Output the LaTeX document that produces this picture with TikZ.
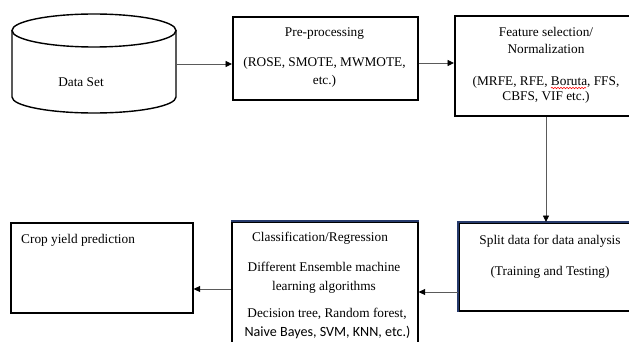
\documentclass[tikz,border=0pt]{standalone}
\usepackage{fontspec}
\setmainfont{Liberation Serif}
\newfontfamily\calibrilike{Carlito}
\usetikzlibrary{arrows.meta,decorations.pathmorphing}
\definecolor{edgenavy}{RGB}{38,58,108}
\definecolor{connline}{RGB}{90,90,90}
\tikzset{
  box/.style={draw=black, line width=1.6pt, inner sep=0pt, anchor=north west},
  % multi-line texts sit on the baseline of their last line
  txt/.style={inner sep=0pt, align=center, anchor=base,
    font=\fontsize{13.3}{18}\selectfont},
  conn/.style={draw=connline, line width=0.9pt,
    -{Triangle[length=6.5pt,width=6pt,fill=black,color=black]}},
  drum/.style={draw=black, line width=1.4pt}
}
\begin{document}
\begin{tikzpicture}[x=1pt,y=-1pt]
  \useasboundingbox (0,0) rectangle (629,342);
  \clip (0,0) rectangle (629,342);
  \fill[white] (0,0) rectangle (629,342);

  % data set drum
  \draw[drum] (12,30.5) -- (12,97)
    arc[start angle=180, end angle=360, x radius=82pt, y radius=16pt]
    -- (176,30.5);
  \draw[drum] (94,30.5) ellipse[x radius=82pt, y radius=16.5pt];
  \node[txt] (dstext) at (81,86.5) {Data Set};
  \coordinate (dsr) at (176,64);

  % boxes
  \node[box, minimum width=185pt, minimum height=83pt] (pre) at (232,16) {};
  \node[box, minimum width=186pt, minimum height=100pt] (feat) at (454,15) {};
  \node[box, minimum width=184pt, minimum height=88pt] (split) at (458,222) {};
  \node[box, minimum width=186pt, minimum height=140pt] (cls) at (231,221) {};
  \node[box, minimum width=182pt, minimum height=90pt] (crop) at (10,222) {};

  % navy edges
  \draw[edgenavy, line width=1.2pt] (cls.north west) -- (cls.north east);
  \draw[edgenavy, line width=1.2pt] (split.south west) -- (split.north west) -- (split.north east);

  % box texts
  \node[txt] (pre1) at (324.5,36.5) {Pre-processing};
  \node[txt] (pre2) at (324.5,84.5) {(ROSE, SMOTE, MWMOTE,\\etc.)};

  \node[txt, font=\fontsize{13.3}{17}\selectfont] (feat1) at (546,53.5) {Feature selection/\\Normalization};
  \node[txt, font=\fontsize{13.3}{15}\selectfont] (feat2) at (546,100.5) {(MRFE, RFE, Boruta, FFS,\\CBFS, VIF etc.)};
  \draw[red, line width=0.6pt, decorate,
    decoration={snake, amplitude=0.7pt, segment length=3pt}] (551,88) -- (586,88);

  \node[txt] (split1) at (550,244.5) {Split data for data analysis};
  \node[txt] (split2) at (550,275.5) {(Training and Testing)};

  \node[txt] (cls1) at (320,241.5) {Classification/Regression};
  \node[txt, font=\fontsize{13.3}{19}\selectfont] (cls2) at (324,290.5) {Different Ensemble machine\\learning algorithms};
  \node[txt] (cls3) at (327,317.5) {Decision tree, Random forest,};
  \node[txt, font=\calibrilike\fontsize{14.1}{19}\selectfont] (cls4) at (327.5,336.5) {Naive Bayes, SVM, KNN, etc.)};

  \node[txt, anchor=base west] (crop1) at (21,243.5) {Crop yield prediction};

  % connectors
  \draw[conn] (dsr) -- (dsr -| pre.west);
  \draw[conn] (pre.east |- {(0,63)}) -- (feat.west |- {(0,63)});
  \draw[conn] (feat.south -| {(546,0)}) -- (split.north -| {(546,0)});
  \draw[conn] (split.west |- {(0,292)}) -- (cls.east |- {(0,292)});
  \draw[conn] (cls.west |- {(0,289)}) -- (crop.east |- {(0,289)});
\end{tikzpicture}
\end{document}
